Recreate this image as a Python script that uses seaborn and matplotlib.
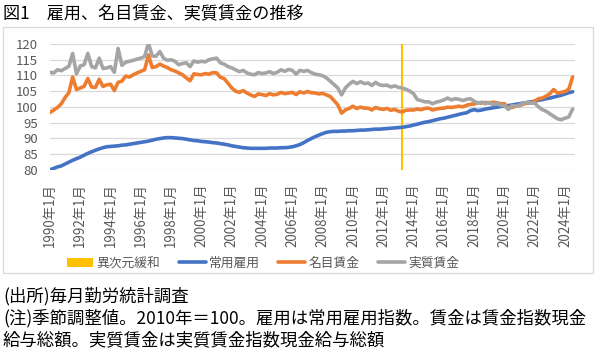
import numpy as np
import pandas as pd
import matplotlib
matplotlib.use("Agg")
import matplotlib.pyplot as plt
import seaborn as sns
from matplotlib.patches import Patch, Rectangle
from matplotlib.lines import Line2D

# ---------------- data (quarterly) ----------------
title = "図1　雇用、名目賃金、実質賃金の推移"
series_names = ["常用雇用", "名目賃金", "実質賃金"]
policy_label = "異次元緩和"
policy_date = "2013-04-01"
start_date = "1990-01-01"

employment = [
    80.0, 80.4, 80.9, 81.2,  81.8, 82.4, 83.0, 83.5,  84.0, 84.6, 85.2, 85.7,
    86.2, 86.6, 87.0, 87.3,  87.4, 87.5, 87.6, 87.8,  87.9, 88.1, 88.3, 88.5,
    88.7, 88.9, 89.1, 89.4,  89.7, 89.9, 90.1, 90.2,  90.2, 90.1, 90.0, 89.9,
    89.7, 89.5, 89.3, 89.2,  89.0, 88.9, 88.8, 88.6,  88.5, 88.3, 88.1, 87.9,
    87.6, 87.4, 87.2, 87.0,  86.9, 86.8, 86.8, 86.8,  86.8, 86.8, 86.9, 86.9,
    86.9, 87.0, 87.0, 87.1,  87.3, 87.6, 88.0, 88.6,  89.3, 89.9, 90.5, 91.0,
    91.5, 91.9, 92.1, 92.2,  92.2, 92.3, 92.3, 92.4,  92.4, 92.5, 92.6, 92.6,
    92.7, 92.8, 92.9, 92.9,  93.0, 93.1, 93.2, 93.3,  93.4, 93.5, 93.7, 93.9,
    94.2, 94.5, 94.8, 95.1,  95.3, 95.6, 95.9, 96.2,  96.4, 96.7, 97.0, 97.3,
    97.6, 97.9, 98.1, 98.8,  99.1, 98.8, 99.0, 99.3,  99.5, 99.7, 99.9, 100.1,
    100.3, 100.4, 100.6, 100.8,  101.0, 101.2, 101.4, 101.6,
    101.8, 102.1, 102.3, 102.6,  102.8, 103.1, 103.4, 103.7,
    104.1, 104.5, 104.8,
]

nominal = [
    98.2, 99.0, 99.8, 101.0,  103.0, 104.5, 109.5, 105.5,  106.0, 106.5, 109.0, 106.3,
    106.2, 108.8, 106.5, 107.0,  107.2, 105.2, 107.8, 108.2,  109.8, 109.5, 110.2, 110.8,
    111.3, 111.8, 116.5, 112.5,  112.8, 113.6, 113.0, 112.5,  111.8, 111.4, 110.8, 110.2,
    109.2, 108.3, 110.5, 110.3,  110.2, 110.6, 110.4, 110.9,  110.8, 109.4, 109.0, 107.5,
    106.0, 105.0, 104.6, 105.2,  104.4, 103.8, 103.3, 104.1,  103.9, 103.6, 104.2, 103.8,
    104.0, 104.6, 104.2, 104.4,  104.6, 103.9, 104.8, 104.4,  104.9, 104.5, 104.4, 104.1,
    104.3, 103.8, 103.3, 102.0,  100.6, 98.0, 99.0, 99.5,  100.2, 99.5, 99.9, 99.6,
    99.6, 99.0, 99.8, 99.4,  99.2, 99.5, 98.9, 99.2,  98.6, 98.4, 98.9, 99.0,
    99.0, 99.3, 99.1, 99.5,  99.6, 99.0, 99.3, 99.5,  99.6, 99.9, 99.8, 100.0,
    100.2, 100.0, 100.5, 100.8,  100.9, 101.3, 101.2, 101.4,  101.2, 101.5, 101.3, 101.0,
    101.0, 99.6, 99.8, 100.2,  100.4, 100.9, 101.2, 101.2,
    101.8, 102.6, 102.8, 103.4,  104.2, 105.5, 104.4, 104.6,
    104.9, 105.6, 109.5,
]

real = [
    111.0, 110.8, 111.8, 111.5,  112.2, 112.9, 117.0, 110.5,  113.0, 113.4, 117.0, 112.8,
    112.4, 115.5, 112.2, 112.4,  112.8, 111.0, 118.6, 113.2,  114.2, 114.5, 114.8, 115.2,
    115.5, 116.0, 120.3, 116.2,  116.1, 117.6, 115.5, 114.8,  115.0, 114.5, 113.4, 113.8,
    114.0, 112.8, 114.6, 114.2,  114.5, 114.3, 115.0, 115.3,  115.5, 114.0, 113.6, 112.8,
    112.4, 111.8, 111.2, 111.6,  110.8, 110.4, 110.2, 110.9,  110.6, 110.8, 111.2, 110.6,
    111.0, 111.8, 111.3, 111.9,  111.6, 110.4, 111.6, 111.3,  111.6, 110.9, 110.4, 110.2,
    109.9, 109.2, 108.2, 107.1,  106.0, 103.8, 106.0, 107.2,  108.1, 107.4, 108.0, 107.4,
    107.6, 106.8, 107.8, 107.0,  106.8, 106.9, 106.3, 106.7,  106.2, 106.0, 105.6, 105.0,
    104.2, 102.3, 102.0, 101.6,  101.6, 101.0, 101.5, 101.8,  102.2, 102.8, 102.2, 102.6,
    102.4, 102.0, 102.4, 102.6,  101.8, 101.2, 101.5, 101.0,  101.4, 100.7, 101.1, 100.5,
    100.4, 99.2, 100.4, 100.2,  100.6, 101.2, 101.4, 101.2,
    101.2, 100.0, 99.1, 98.6,  97.8, 97.0, 96.2, 95.9,
    96.4, 96.8, 99.3,
]

tick_years = list(range(1990, 2025, 2))
y_ticks = [80, 85, 90, 95, 100, 105, 110, 115, 120]
notes = [
    "(出所)毎月勤労統計調査",
    "(注)季節調整値。2010年＝100。雇用は常用雇用指数。賃金は賃金指数現金",
    "給与総額。実質賃金は実質賃金指数現金給与総額",
]

colors = {"常用雇用": "#4472C4", "名目賃金": "#ED7D31", "実質賃金": "#A5A5A5"}
policy_color = "#FFC000"

# ---------------- build frame ----------------
dates = pd.date_range(start_date, periods=len(employment), freq="QS")
df = pd.DataFrame({"date": dates,
                   series_names[0]: employment,
                   series_names[1]: nominal,
                   series_names[2]: real})
long = df.melt(id_vars="date", var_name="series", value_name="value")

# ---------------- style ----------------
sns.set_theme(style="white")
plt.rcParams["font.family"] = ["Noto Sans CJK JP", "DejaVu Sans"]

fig = plt.figure(figsize=(6, 3.54), dpi=100)
ax = fig.add_axes([50 / 600, 1 - 169.7 / 354, 525 / 600, 125.7 / 354])

ax.axvline(pd.Timestamp(policy_date), color=policy_color, lw=1.5, zorder=1.5)
sns.lineplot(data=long, x="date", y="value", hue="series",
             hue_order=series_names, palette=colors, linewidth=2.6,
             ax=ax, legend=False, zorder=3)

ax.set_ylim(80, 120)
ax.set_yticks(y_ticks)
ax.set_xlim(pd.Timestamp("1990-01-01"), pd.Timestamp("2024-08-28"))
ax.set_xticks([pd.Timestamp(f"{y}-01-01") for y in tick_years])
ax.set_xticklabels([f"{y}年1月" for y in tick_years], rotation=90)
ax.set_xlabel("")
ax.set_ylabel("")
ax.grid(axis="y", color="#d9d9d9", lw=0.9)
ax.grid(axis="x", visible=False)
for s in ax.spines.values():
    s.set_visible(False)
ax.tick_params(axis="y", length=0, pad=9, labelsize=9.5, labelcolor="#595959")
ax.tick_params(axis="x", length=0, pad=9.5, labelsize=9.6, labelcolor="#595959")

# chart border
fig.patches.append(Rectangle((3 / 600, 1 - 273 / 354), 590 / 600, 246 / 354,
                             transform=fig.transFigure, fill=False,
                             edgecolor="#d9d9d9", lw=0.9))

handles = [Patch(facecolor=policy_color, edgecolor="none")] + \
          [Line2D([0], [0], color=colors[n], lw=2.6) for n in series_names]
labels = [policy_label] + series_names
fig.legend(handles, labels, loc="center", bbox_to_anchor=(0.438, 1 - 263 / 354),
           ncol=4, frameon=False, fontsize=9.2, handlelength=2.1,
           handletextpad=0.25, columnspacing=1.45, labelcolor="#595959")

fig.text(3 / 600, 1 - 14 / 354, title, fontsize=12.3, va="center", ha="left",
         color="#000000")
for i, line in enumerate(notes):
    fig.text(3 / 600, 1 - (296 + 22 * i) / 354, line, fontsize=12.5,
             va="center", ha="left", color="#000000")

fig.savefig("out.png", dpi=100)
